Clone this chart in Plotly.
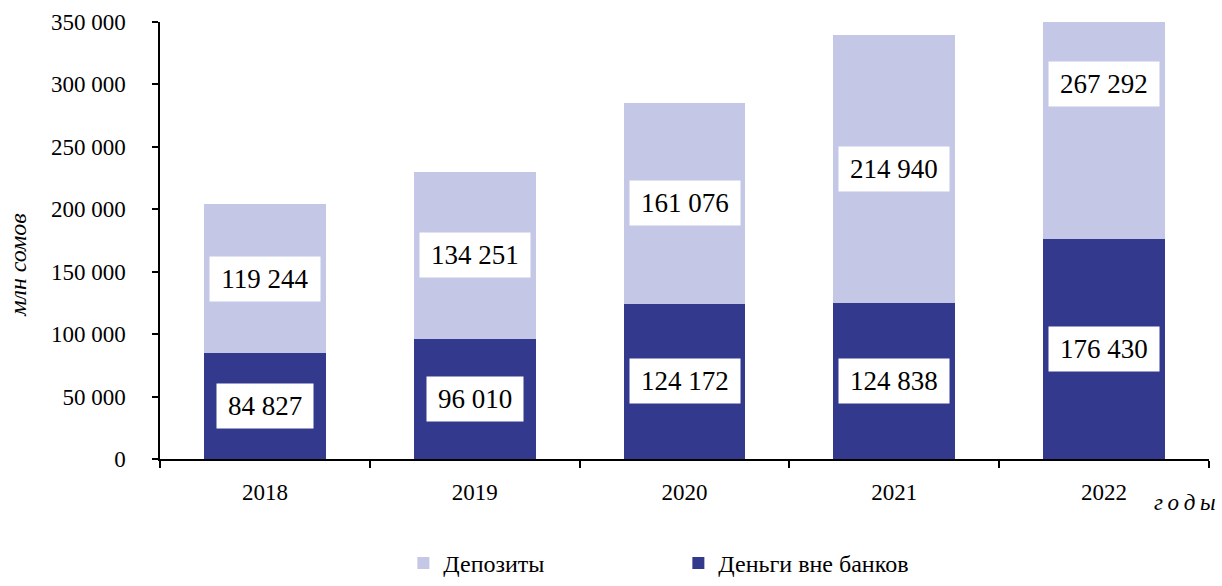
import plotly.graph_objects as go

# Денежная масса по компонентам, млн сомов
years = ["2018", "2019", "2020", "2021", "2022"]
cash_outside_banks = [84827, 96010, 124172, 124838, 176430]
deposits = [119244, 134251, 161076, 214940, 267292]
y_max = 350000

DARK = "#333A8E"
LIGHT = "#C4C7E5"
FONT = "Liberation Serif, Times New Roman, serif"

fig = go.Figure()
fig.add_trace(go.Bar(x=years, y=cash_outside_banks, name="Деньги вне банков",
                     marker=dict(color=DARK, line=dict(width=0))))
fig.add_trace(go.Bar(x=years, y=deposits, name="Депозиты",
                     marker=dict(color=LIGHT, line=dict(width=0))))


def fmt(v):
    return f"{v:,}".replace(",", " ")


def box_width(text, size):
    digits = sum(c.isdigit() for c in text)
    spaces = text.count(" ")
    return size * (0.5 * digits + 0.25 * spaces) + 20


LABEL_SIZE = 27
label_cap = y_max - 50000  # keep labels of clipped segments inside the plot
for i, (c, d) in enumerate(zip(cash_outside_banks, deposits)):
    for val, base in ((c, 0), (d, c)):
        txt = fmt(val)
        mid = min(base + val / 2, label_cap)
        # category index on the x axis
        fig.add_annotation(x=i, y=mid, xref="x", yref="y", text=txt,
                           showarrow=False, bgcolor="white",
                           width=box_width(txt, LABEL_SIZE), height=42,
                           font=dict(family=FONT, size=LABEL_SIZE, color="black"))

fig.add_annotation(xref="paper", yref="paper", x=-0.136, xanchor="center",
                   y=0.445, yanchor="middle",
                   text="<i>млн сомов</i>", textangle=-90, showarrow=False,
                   font=dict(family=FONT, size=24, color="black"))
fig.add_annotation(xref="paper", yref="paper", x=1.009, xanchor="right",
                   y=-0.10, yanchor="middle",
                   text="<i>г\u2009о\u2009д\u2009ы</i>", showarrow=False,
                   font=dict(family=FONT, size=23, color="black"))

fig.update_layout(
    width=1222, height=586,
    margin=dict(l=160, r=13, t=22, b=127, autoexpand=False),
    barmode="stack", bargap=0.42,
    plot_bgcolor="white", paper_bgcolor="white",
    separators=". ",
    font=dict(family=FONT, size=22, color="black"),
    showlegend=True,
    legend=dict(orientation="h", traceorder="reversed",
                x=0.232, xanchor="left", yref="container", y=0.0, yanchor="bottom",
                entrywidth=230, entrywidthmode="pixels",
                font=dict(family=FONT, size=24, color="black")),
    xaxis=dict(type="category", range=[-0.5, len(years) - 0.5],
               showline=True, linecolor="black", linewidth=1.5,
               ticks="outside", tickson="boundaries", ticklen=7,
               tickcolor="black", tickwidth=1.5, tickangle=0,
               ticklabelstandoff=12,
               tickfont=dict(family=FONT, size=23, color="black")),
    yaxis=dict(range=[0, y_max], dtick=50000, tickformat=",d",
               showline=True, linecolor="black", linewidth=1.5,
               ticks="outside", ticklen=6, tickcolor="black", tickwidth=1.5,
               ticklabelstandoff=22,
               showgrid=False, zeroline=False,
               tickfont=dict(family=FONT, size=23, color="black")),
)

fig.write_html("out.html")
